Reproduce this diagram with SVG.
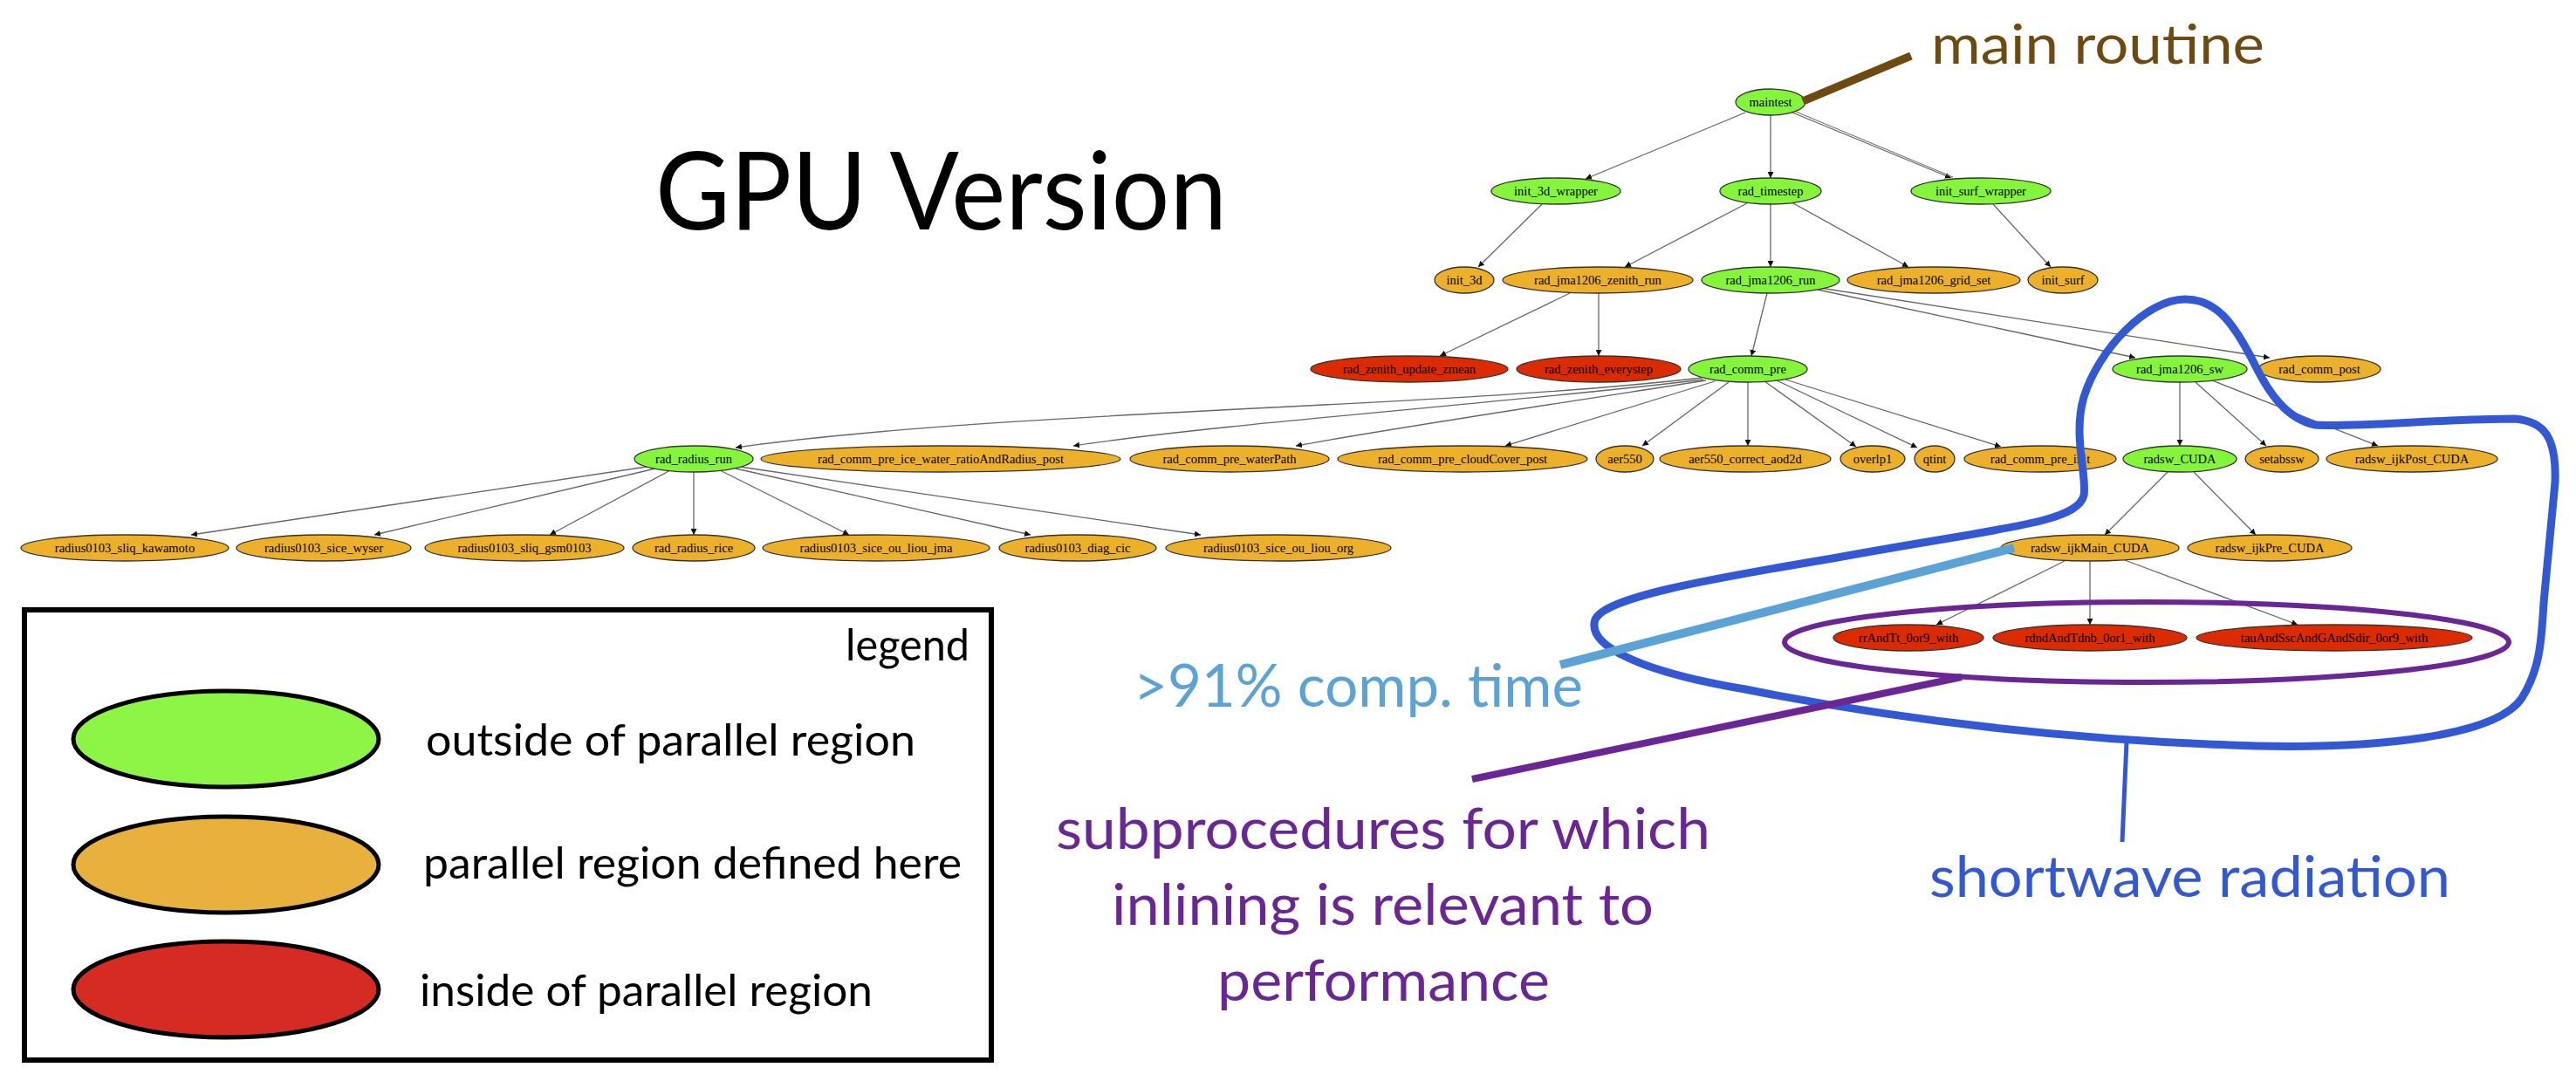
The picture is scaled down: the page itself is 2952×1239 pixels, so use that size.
<svg xmlns="http://www.w3.org/2000/svg" width="2952" height="1239" viewBox="0 0 2952 1239">
<defs>
<marker id="arr" markerUnits="userSpaceOnUse" markerWidth="8" markerHeight="7" refX="7" refY="3.5" orient="auto">
<path d="M0,0 L7,3.5 L0,7 z" fill="#111"/>
</marker>
<style>
.n{stroke:#333;stroke-width:1.3}
.g{fill:#85f53b}
.o{fill:#ecb02a}
.r{fill:#dc2b00}
.lbl{font-family:"Liberation Serif","Times New Roman",serif;font-size:14.5px;text-anchor:middle;fill:#000}
.e{stroke:#666;stroke-width:1.3;fill:none;marker-end:url(#arr)}
.big{font-family:Lato,"Liberation Sans",sans-serif}
.lg{stroke:#000;stroke-width:5}
</style>
</defs>
<rect width="2952" height="1239" fill="#fff"/>

<text class="big" x="751" y="263" font-size="124" textLength="655" lengthAdjust="spacingAndGlyphs" fill="#000">GPU Version</text>

<g id="connectors">
<line class="e" x1="2000" y1="129" x2="1817" y2="205"/>
<line class="e" x1="2029" y1="132" x2="2029" y2="204"/>
<line class="e" x1="2054" y1="129" x2="2236" y2="204"/>
<line x1="2058" y1="128" x2="2238" y2="203" stroke="#777" stroke-width="1.1"/>
<line class="e" x1="1767" y1="234" x2="1694" y2="306"/>
<line class="e" x1="2002" y1="233" x2="1862" y2="306"/>
<line class="e" x1="2029" y1="234" x2="2029" y2="306"/>
<line class="e" x1="2055" y1="233" x2="2187" y2="306"/>
<line class="e" x1="2284" y1="234" x2="2350" y2="306"/>
<line class="e" x1="1799" y1="336" x2="1650" y2="408"/>
<line class="e" x1="1832" y1="336" x2="1832" y2="408"/>
<line class="e" x1="2025" y1="336" x2="2007" y2="408"/>
<line class="e" x1="2083" y1="332" x2="2447" y2="410"/>
<line class="e" x1="2086" y1="330" x2="2601" y2="410"/>
<path class="e" d="M1950,433 C1650,468 1150,470 843,513"/>
<path class="e" d="M1952,435 C1750,460 1400,485 1230,511"/>
<path class="e" d="M1955,436 C1800,460 1600,490 1485,511"/>
<line class="e" x1="1965" y1="437" x2="1725" y2="511"/>
<line class="e" x1="1981" y1="438" x2="1882" y2="511"/>
<line class="e" x1="2003" y1="438" x2="2003" y2="511"/>
<line class="e" x1="2022" y1="437" x2="2127" y2="512"/>
<line class="e" x1="2036" y1="436" x2="2197" y2="513"/>
<line class="e" x1="2046" y1="435" x2="2293" y2="512"/>
<line class="e" x1="2498" y1="438" x2="2498" y2="511"/>
<line class="e" x1="2516" y1="438" x2="2597" y2="511"/>
<line class="e" x1="2535" y1="436" x2="2725" y2="511"/>
<line class="e" x1="2484" y1="541" x2="2412" y2="613"/>
<line class="e" x1="2514" y1="541" x2="2585" y2="613"/>
<line class="e" x1="2366" y1="643" x2="2219" y2="716"/>
<line class="e" x1="2395" y1="643" x2="2395" y2="716"/>
<line class="e" x1="2435" y1="642" x2="2633" y2="716"/>
<line class="e" x1="741" y1="535" x2="219" y2="613"/>
<line class="e" x1="751" y1="537" x2="429" y2="613"/>
<line class="e" x1="768" y1="539" x2="630" y2="613"/>
<line class="e" x1="795" y1="541" x2="795" y2="613"/>
<line class="e" x1="825" y1="539" x2="973" y2="613"/>
<line class="e" x1="843" y1="537" x2="1181" y2="613"/>
<line class="e" x1="848" y1="535" x2="1376" y2="613"/>
</g>

<g id="n_maintest"><ellipse class="n g" cx="2029" cy="117" rx="40" ry="15"/><text class="lbl" x="2029" y="122">maintest</text></g>
<g id="n_init_3d_wrapper"><ellipse class="n g" cx="1783" cy="219" rx="74" ry="15"/><text class="lbl" x="1783" y="224">init_3d_wrapper</text></g>
<g id="n_rad_timestep"><ellipse class="n g" cx="2029" cy="219" rx="58" ry="15"/><text class="lbl" x="2029" y="224">rad_timestep</text></g>
<g id="n_init_surf_wrapper"><ellipse class="n g" cx="2270" cy="219" rx="80" ry="15"/><text class="lbl" x="2270" y="224">init_surf_wrapper</text></g>
<g id="n_init_3d"><ellipse class="n o" cx="1678" cy="321" rx="34" ry="15"/><text class="lbl" x="1678" y="326">init_3d</text></g>
<g id="n_rad_jma1206_zenith_run"><ellipse class="n o" cx="1831" cy="321" rx="109" ry="15"/><text class="lbl" x="1831" y="326">rad_jma1206_zenith_run</text></g>
<g id="n_rad_jma1206_run"><ellipse class="n g" cx="2029" cy="321" rx="79" ry="15"/><text class="lbl" x="2029" y="326">rad_jma1206_run</text></g>
<g id="n_rad_jma1206_grid_set"><ellipse class="n o" cx="2216" cy="321" rx="99" ry="15"/><text class="lbl" x="2216" y="326">rad_jma1206_grid_set</text></g>
<g id="n_init_surf"><ellipse class="n o" cx="2364" cy="321" rx="40" ry="15"/><text class="lbl" x="2364" y="326">init_surf</text></g>
<g id="n_rad_zenith_update_zmean"><ellipse class="n r" cx="1615" cy="423" rx="113" ry="15"/><text class="lbl" x="1615" y="428">rad_zenith_update_zmean</text></g>
<g id="n_rad_zenith_everystep"><ellipse class="n r" cx="1832" cy="423" rx="94" ry="15"/><text class="lbl" x="1832" y="428">rad_zenith_everystep</text></g>
<g id="n_rad_comm_pre"><ellipse class="n g" cx="2003" cy="423" rx="68" ry="15"/><text class="lbl" x="2003" y="428">rad_comm_pre</text></g>
<g id="n_rad_jma1206_sw"><ellipse class="n g" cx="2498" cy="423" rx="77" ry="15"/><text class="lbl" x="2498" y="428">rad_jma1206_sw</text></g>
<g id="n_rad_comm_post"><ellipse class="n o" cx="2658" cy="423" rx="70" ry="15"/><text class="lbl" x="2658" y="428">rad_comm_post</text></g>
<g id="n_rad_radius_run"><ellipse class="n g" cx="795" cy="526" rx="68" ry="15"/><text class="lbl" x="795" y="531">rad_radius_run</text></g>
<g id="n_rad_comm_pre_ice_water_ratioAndRadius_post"><ellipse class="n o" cx="1078" cy="526" rx="206" ry="15"/><text class="lbl" x="1078" y="531">rad_comm_pre_ice_water_ratioAndRadius_post</text></g>
<g id="n_rad_comm_pre_waterPath"><ellipse class="n o" cx="1409" cy="526" rx="114" ry="15"/><text class="lbl" x="1409" y="531">rad_comm_pre_waterPath</text></g>
<g id="n_rad_comm_pre_cloudCover_post"><ellipse class="n o" cx="1676" cy="526" rx="143" ry="15"/><text class="lbl" x="1676" y="531">rad_comm_pre_cloudCover_post</text></g>
<g id="n_aer550"><ellipse class="n o" cx="1862" cy="526" rx="33" ry="15"/><text class="lbl" x="1862" y="531">aer550</text></g>
<g id="n_aer550_correct_aod2d"><ellipse class="n o" cx="2000" cy="526" rx="98" ry="15"/><text class="lbl" x="2000" y="531">aer550_correct_aod2d</text></g>
<g id="n_overlp1"><ellipse class="n o" cx="2146" cy="526" rx="37" ry="15"/><text class="lbl" x="2146" y="531">overlp1</text></g>
<g id="n_qtint"><ellipse class="n o" cx="2217" cy="526" rx="23" ry="15"/><text class="lbl" x="2217" y="531">qtint</text></g>
<g id="n_rad_comm_pre_init"><ellipse class="n o" cx="2338" cy="526" rx="87" ry="15"/><text class="lbl" x="2338" y="531">rad_comm_pre_init</text></g>
<g id="n_radsw_CUDA"><ellipse class="n g" cx="2498" cy="526" rx="65" ry="15"/><text class="lbl" x="2498" y="531">radsw_CUDA</text></g>
<g id="n_setabssw"><ellipse class="n o" cx="2615" cy="526" rx="42" ry="15"/><text class="lbl" x="2615" y="531">setabssw</text></g>
<g id="n_radsw_ijkPost_CUDA"><ellipse class="n o" cx="2764" cy="526" rx="98" ry="15"/><text class="lbl" x="2764" y="531">radsw_ijkPost_CUDA</text></g>
<g id="n_radius0103_sliq_kawamoto"><ellipse class="n o" cx="143" cy="628" rx="119" ry="15"/><text class="lbl" x="143" y="633">radius0103_sliq_kawamoto</text></g>
<g id="n_radius0103_sice_wyser"><ellipse class="n o" cx="371" cy="628" rx="100" ry="15"/><text class="lbl" x="371" y="633">radius0103_sice_wyser</text></g>
<g id="n_radius0103_sliq_gsm0103"><ellipse class="n o" cx="601" cy="628" rx="114" ry="15"/><text class="lbl" x="601" y="633">radius0103_sliq_gsm0103</text></g>
<g id="n_rad_radius_rice"><ellipse class="n o" cx="795" cy="628" rx="70" ry="15"/><text class="lbl" x="795" y="633">rad_radius_rice</text></g>
<g id="n_radius0103_sice_ou_liou_jma"><ellipse class="n o" cx="1004" cy="628" rx="130" ry="15"/><text class="lbl" x="1004" y="633">radius0103_sice_ou_liou_jma</text></g>
<g id="n_radius0103_diag_cic"><ellipse class="n o" cx="1235" cy="628" rx="90" ry="15"/><text class="lbl" x="1235" y="633">radius0103_diag_cic</text></g>
<g id="n_radius0103_sice_ou_liou_org"><ellipse class="n o" cx="1465" cy="628" rx="129" ry="15"/><text class="lbl" x="1465" y="633">radius0103_sice_ou_liou_org</text></g>
<g id="n_radsw_ijkMain_CUDA"><ellipse class="n o" cx="2395" cy="628" rx="102" ry="15"/><text class="lbl" x="2395" y="633">radsw_ijkMain_CUDA</text></g>
<g id="n_radsw_ijkPre_CUDA"><ellipse class="n o" cx="2601" cy="628" rx="94" ry="15"/><text class="lbl" x="2601" y="633">radsw_ijkPre_CUDA</text></g>
<g id="n_rrAndTt_0or9_with"><ellipse class="n r" cx="2187" cy="731" rx="86" ry="15"/><text class="lbl" x="2187" y="736">rrAndTt_0or9_with</text></g>
<g id="n_rdndAndTdnb_0or1_with"><ellipse class="n r" cx="2395" cy="731" rx="111" ry="15"/><text class="lbl" x="2395" y="736">rdndAndTdnb_0or1_with</text></g>
<g id="n_tauAndSscAndGAndSdir_0or9_with"><ellipse class="n r" cx="2675" cy="731" rx="158" ry="15"/><text class="lbl" x="2675" y="736">tauAndSscAndGAndSdir_0or9_with</text></g>

<g id="annotations">
<line x1="2066" y1="116" x2="2190" y2="64" stroke="#6f4a10" stroke-width="9"/>
<text class="big" x="2213" y="73" font-size="62" textLength="382" lengthAdjust="spacingAndGlyphs" fill="#6f4a10">main routine</text>

<path d="M2504,343 C2460,343 2405,400 2388,455 C2375,500 2392,545 2388,568 C2380,600 2290,605 2100,640 C1950,665 1840,685 1828,710 C1818,740 1880,770 2000,790 C2150,820 2350,848 2586,855 C2720,858 2860,845 2890,800 C2915,760 2912,720 2916,680 L2928,553 C2930,500 2915,483 2882,480 C2800,480 2700,490 2653,487 C2620,480 2600,450 2585,420 C2560,370 2540,343 2504,343 Z" fill="none" stroke="#3358d4" stroke-width="9"/>
<line x1="2437" y1="850" x2="2432" y2="965" stroke="#3358d4" stroke-width="5"/>
<text class="big" x="2211" y="1028" font-size="66" textLength="597" lengthAdjust="spacingAndGlyphs" fill="#3358d4">shortwave radiation</text>

<ellipse cx="2460" cy="736" rx="415" ry="46" fill="none" stroke="#6b2695" stroke-width="6"/>
<line x1="2248" y1="776" x2="1687" y2="893" stroke="#6b2695" stroke-width="8"/>
<text class="big" font-size="66" fill="#6b2695"><tspan x="1210" y="973" textLength="750" lengthAdjust="spacingAndGlyphs">subprocedures for which</tspan><tspan x="1274" y="1060" textLength="621" lengthAdjust="spacingAndGlyphs">inlining is relevant to</tspan><tspan x="1395" y="1147" textLength="381" lengthAdjust="spacingAndGlyphs">performance</tspan></text>

<line x1="2308" y1="628" x2="1788" y2="762" stroke="#5ba3d7" stroke-width="10"/>
<text class="big" x="1299" y="810" font-size="68" textLength="515" lengthAdjust="spacingAndGlyphs" fill="#5ba3d7">&gt;91% comp. time</text>
</g>

<g id="legend">
<rect x="28" y="699" width="1108" height="516" fill="#fff" stroke="#000" stroke-width="6"/>
<text class="big" x="969" y="757" font-size="50" textLength="142" lengthAdjust="spacingAndGlyphs" fill="#000">legend</text>
<ellipse class="lg" cx="259" cy="847" rx="175" ry="55" fill="#8df546"/>
<text class="big" x="488" y="866" font-size="50" textLength="561" lengthAdjust="spacingAndGlyphs" fill="#000">outside of parallel region</text>
<ellipse class="lg" cx="259" cy="991" rx="175" ry="55" fill="#e8b03c"/>
<text class="big" x="485" y="1007" font-size="50" textLength="617" lengthAdjust="spacingAndGlyphs" fill="#000">parallel region defined here</text>
<ellipse class="lg" cx="259" cy="1134" rx="175" ry="55" fill="#d62b22"/>
<text class="big" x="481" y="1153" font-size="50" textLength="519" lengthAdjust="spacingAndGlyphs" fill="#000">inside of parallel region</text>
</g>
</svg>
